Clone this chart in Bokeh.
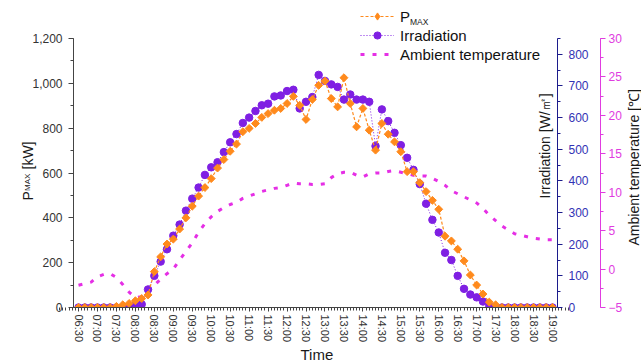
import numpy as np
from bokeh.plotting import figure
from bokeh.models import (Range1d, LinearAxis, FixedTicker, NumeralTickFormatter,
                          Legend, LegendItem, Label, ColumnDataSource, BoxAnnotation)
from bokeh.embed import file_html
from bokeh.resources import INLINE

# ---------------- data ----------------
times = ["06:30", "06:40", "06:50", "07:00", "07:10", "07:20", "07:30", "07:40", "07:50", "08:00",
         "08:10", "08:20", "08:30", "08:40", "08:50", "09:00", "09:10", "09:20", "09:30", "09:40",
         "09:50", "10:00", "10:10", "10:20", "10:30", "10:40", "10:50", "11:00", "11:10", "11:20",
         "11:30", "11:40", "11:50", "12:00", "12:10", "12:20", "12:30", "12:40", "12:50", "13:00",
         "13:10", "13:20", "13:30", "13:40", "13:50", "14:00", "14:10", "14:20", "14:30", "14:40",
         "14:50", "15:00", "15:10", "15:20", "15:30", "15:40", "15:50", "16:00", "16:10", "16:20",
         "16:30", "16:40", "16:50", "17:00", "17:10", "17:20", "17:30", "17:40", "17:50", "18:00",
         "18:10", "18:20", "18:30", "18:40", "18:50", "19:00"]

pmax = [0, 0, 0, 0, 0, 0, 5, 12, 18, 30,
        40, 56, 160, 226, 283, 305, 350, 400, 452, 497,
        535, 575, 622, 660, 697, 729, 784, 799, 821, 848,
        865, 880, 888, 910, 942, 902, 839, 928, 991, 1010,
        932, 895, 1025, 910, 806, 888, 791, 702, 821, 773,
        739, 695, 606, 606, 557, 517, 478, 438, 318, 297,
        260, 208, 145, 100, 60, 24, 12, 0, 0, 0,
        0, 0, 0, 0, 0, 0]

irradiation = [0, 0, 0, 0, 0, 0, 0, 0, 0, 8,
               10, 57, 100, 145, 184, 227, 262, 306, 344, 379,
               419, 443, 459, 491, 522, 548, 583, 600, 621, 639,
               644, 667, 670, 684, 688, 629, 650, 665, 735, 716,
               705, 697, 657, 673, 657, 657, 650, 510, 626, 589,
               552, 513, 473, 435, 390, 328, 277, 237, 173, 150,
               100, 59, 41, 32, 19, 5, 0, 0, 0, 0,
               0, 0, 0, 0, 0, 0]

temperature = [-2.1, -1.9, -1.7, -1.0, -0.7, -0.6, -1.1, -2.0, -3.0, -3.7,
               -3.6, -3.0, -2.1, -1.3, -0.6, 0.0, 1.2, 2.3, 3.4, 4.8,
               5.9, 6.8, 7.5, 8.0, 8.4, 8.7, 9.2, 9.5, 9.8, 10.1,
               10.3, 10.5, 10.6, 10.9, 11.2, 11.1, 11.1, 11.0, 11.0, 11.1,
               11.9, 12.4, 12.6, 12.6, 12.2, 12.0, 12.4, 12.5, 12.5, 12.7,
               12.8, 12.6, 12.4, 12.2, 12.1, 12.1, 11.8, 11.4, 10.9, 10.2,
               9.8, 9.4, 9.0, 8.6, 7.9, 7.0, 6.3, 5.6, 5.1, 4.6,
               4.4, 4.2, 4.0, 3.9, 3.8, 3.8]

tick_labels = ["06:30", "07:00", "07:30", "08:00", "08:30", "09:00", "09:30", "10:00", "10:30",
               "11:00", "11:30", "12:00", "12:30", "13:00", "13:30", "14:00", "14:30", "15:00",
               "15:30", "16:00", "16:30", "17:00", "17:30", "18:00", "18:30", "19:00"]

pmax_ticks = [0, 200, 400, 600, 800, 1000, 1200]
irr_ticks = [0, 100, 200, 300, 400, 500, 600, 700, 800]
temp_ticks = [-5, 0, 5, 10, 15, 20, 25, 30]

PMAX_LIM = (0, 1200)
IRR_LIM = (0, 850)
TEMP_LIM = (-5, 30)


def to_min(s):
    h, m = s.split(":")
    return int(h) * 60 + int(m)


x = [to_min(t) for t in times]
tick_pos = [to_min(t) for t in tick_labels]

# ---------------- layout (canvas pixels) ----------------
W, H = 641, 362
FL, FR, FT, FB = 73, 557, 38, 307      # plotting box
TEMP_AX_X = 600                         # second right axis
X_PER_PX = 30 / 18.96                   # minutes per pixel
X_REF_PX = 78                           # pixel of 06:30


def cx(px):
    return tick_pos[0] + (px - X_REF_PX) * X_PER_PX


def lin(lim, py):
    lo, hi = lim
    return lo + (FB - py) / (FB - FT) * (hi - lo)


def cy(py):
    return lin(PMAX_LIM, py)


FONT = "Liberation Sans"
ORANGE = "#ff8a1c"
PURPLE = "#7f1fe3"
MAGENTA = "#e52fe5"
NAVY = "#1c1c8c"
NAVY_TXT = "#3232b4"
MAG_AX = "#e03ce0"
AX = "#444444"
TXT = "#1a1a1a"

p = figure(width=W, height=H, title=None,
           x_range=Range1d(cx(0), cx(W)), y_range=Range1d(cy(H), cy(0)),
           output_backend="svg", toolbar_location=None, min_border=0,
           x_axis_location="below", y_axis_location="left")
p.extra_y_ranges = {"irr": Range1d(lin(IRR_LIM, H), lin(IRR_LIM, 0)),
                    "temp": Range1d(lin(TEMP_LIM, H), lin(TEMP_LIM, 0))}
p.xgrid.visible = False
p.ygrid.visible = False
p.outline_line_color = None
p.background_fill_color = "white"
p.border_fill_color = "white"

# ---------------- axes ----------------
xa = p.xaxis[0]
xa.fixed_location = PMAX_LIM[0]
xa.bounds = (cx(FL), cx(FR))
xa.ticker = FixedTicker(ticks=tick_pos, minor_ticks=list(np.arange(360, 1170, 5)))
xa.major_label_overrides = {pos: lab for pos, lab in zip(tick_pos, tick_labels)}
xa.major_label_orientation = "vertical"
xa.major_label_text_font = FONT
xa.major_label_text_font_size = "11px"
xa.major_label_text_color = "#333333"
xa.major_label_standoff = 3
xa.axis_line_color = AX
xa.major_tick_line_color = AX
xa.minor_tick_line_color = AX
xa.major_tick_out = 4
xa.major_tick_in = 0
xa.minor_tick_out = 3
xa.minor_tick_in = 0

ya = p.yaxis[0]
ya.fixed_location = cx(FL)
ya.bounds = PMAX_LIM
ya.ticker = FixedTicker(ticks=pmax_ticks, minor_ticks=list(range(0, 1201, 100)))
ya.formatter = NumeralTickFormatter(format="0,0")
ya.major_label_text_font = FONT
ya.major_label_text_font_size = "12px"
ya.major_label_text_color = "#333333"
ya.major_label_standoff = 6
ya.axis_line_color = AX
ya.major_tick_line_color = AX
ya.minor_tick_line_color = AX
ya.major_tick_out = 5
ya.major_tick_in = 0
ya.minor_tick_out = 3
ya.minor_tick_in = 0

irr_axis = LinearAxis(y_range_name="irr", fixed_location=cx(FR), bounds=IRR_LIM,
                      ticker=FixedTicker(ticks=irr_ticks, minor_ticks=list(range(0, 851, 50))),
                      major_label_text_font=FONT, major_label_text_font_size="12px",
                      major_label_text_color=NAVY_TXT, major_label_standoff=6,
                      axis_line_color=NAVY, major_tick_line_color=NAVY, minor_tick_line_color=NAVY,
                      major_tick_out=5, major_tick_in=0, minor_tick_out=3, minor_tick_in=0)
p.add_layout(irr_axis, "right")

temp_axis = LinearAxis(y_range_name="temp", fixed_location=cx(TEMP_AX_X), bounds=TEMP_LIM,
                       ticker=FixedTicker(ticks=temp_ticks, minor_ticks=list(np.arange(-5, 30.1, 2.5))),
                       major_label_text_font=FONT, major_label_text_font_size="12px",
                       major_label_text_color=MAG_AX, major_label_standoff=3,
                       axis_line_color=MAG_AX, major_tick_line_color=MAG_AX, minor_tick_line_color=MAG_AX,
                       major_tick_out=5, major_tick_in=0, minor_tick_out=3, minor_tick_in=0)
p.add_layout(temp_axis, "right")

# ---------------- data renderers ----------------
src = ColumnDataSource(dict(x=x, pmax=pmax, irr=irradiation, temp=temperature))

r_temp = p.line("x", "temp", source=src, y_range_name="temp", line_color=MAGENTA,
                line_width=3, line_dash="4 8")
r_irr_l = p.line("x", "irr", source=src, y_range_name="irr", line_color=PURPLE,
                 line_width=1, line_dash="1 2")
r_irr_s = p.scatter("x", "irr", source=src, y_range_name="irr", marker="circle", size=7.5,
                    fill_color=PURPLE, line_color=PURPLE)
r_p_l = p.line("x", "pmax", source=src, line_color=ORANGE, line_width=1.2, line_dash="3 2")
r_p_s = p.scatter("x", "pmax", source=src, marker="square", angle=np.pi / 4, size=5.6,
                  fill_color=ORANGE, line_color=ORANGE)

# plot area ends at the time axis: hide the lower halves of markers sitting on it
p.add_layout(BoxAnnotation(top=PMAX_LIM[0], left=cx(FL) + 0.5, right=cx(FR) - 0.5,
                           fill_color="white", fill_alpha=1.0, line_color=None, level="glyph"))

# legend key for the diamond symbol (the legend does not rotate markers); not drawn in the plot
r_p_key = p.scatter("x", "pmax", source=src, marker="diamond", size=10,
                    fill_color=ORANGE, line_color=ORANGE, visible=False)

# ---------------- legend ----------------
legend = Legend(items=[LegendItem(label="P", renderers=[r_p_l, r_p_key]),
                       LegendItem(label="Irradiation", renderers=[r_irr_l, r_irr_s]),
                       LegendItem(label="Ambient temperature", renderers=[r_temp])],
                location=(360, H - 63), orientation="vertical", glyph_width=34, glyph_height=18,
                label_height=18, label_standoff=6, spacing=1, padding=0, margin=0,
                border_line_color=None, background_fill_alpha=0,
                label_text_font=FONT, label_text_font_size="15px", label_text_color="#111111")
p.add_layout(legend, "center")

p.add_layout(Label(x=cx(409.5), y=cy(21), text="MAX", text_font=FONT, text_font_size="8.5px",
                   text_color=TXT, text_baseline="alphabetic", text_align="left"))

# ---------------- axis titles ----------------
p.add_layout(Label(x=cx(27), y=cy(200), text="P", angle=np.pi / 2, text_font=FONT,
                   text_font_size="14px", text_color=TXT, text_baseline="alphabetic", text_align="left"))
p.add_layout(Label(x=cx(27), y=cy(190.5), text="MAX", angle=np.pi / 2, text_font=FONT,
                   text_font_size="8px", text_color=TXT, text_baseline="alphabetic", text_align="left"))
p.add_layout(Label(x=cx(27), y=cy(169), text="[kW]", angle=np.pi / 2, text_font=FONT,
                   text_font_size="14px", text_color=TXT, text_baseline="alphabetic", text_align="left"))
p.add_layout(Label(x=cx(544), y=cy(198), text="Irradiation [W/㎡]", angle=np.pi / 2, text_font=FONT,
                   text_font_size="14px", text_color=TXT, text_baseline="alphabetic", text_align="left"))
p.add_layout(Label(x=cx(633), y=cy(245), text="Ambient temperature [℃]", angle=np.pi / 2,
                   text_font=FONT, text_font_size="14px", text_color=TXT,
                   text_baseline="alphabetic", text_align="left"))
p.add_layout(Label(x=cx(300), y=cy(354), text="Time", text_font=FONT, text_font_size="15px",
                   text_color=TXT, text_baseline="alphabetic", text_align="left"))

open("out.html", "w").write(file_html(p, INLINE))
